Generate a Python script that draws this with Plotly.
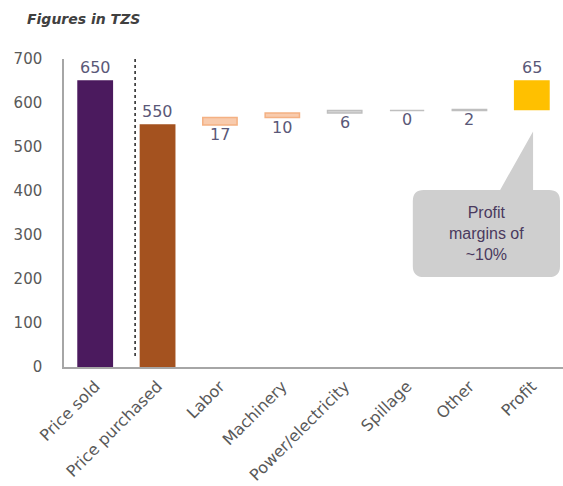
import plotly.graph_objects as go

categories = ["Price sold", "Price purchased", "Labor", "Machinery",
              "Power/electricity", "Spillage", "Other", "Profit"]
values = [650, 550, 17, 10, 6, 0, 2, 65]
kinds = ["total", "total", "cost", "cost", "cost", "cost", "cost", "profit"]
colors = ["#4B1A5E", "#A4521F", "#F8CBAD", "#F8CBAD", "#D9D9D9", "#D9D9D9", "#D9D9D9", "#FFC000"]
line_colors = ["#4B1A5E", "#A4521F", "#F4B183", "#F4B183", "#BFBFBF", "#BFBFBF", "#BFBFBF", "#FFC000"]
yticks = [0, 100, 200, 300, 400, 500, 600, 700]

# compute bases for the waterfall
bases = []
running = None
for v, k in zip(values, kinds):
    if k == "total":
        bases.append(0)
        running = v
    else:
        bases.append(running)
        running += v

label_color = "#5A5878"
font_fam = "DejaVu Sans"

fig = go.Figure()
fig.add_trace(go.Bar(
    x=list(range(len(categories))), y=values, base=bases,
    width=0.55,
    marker=dict(color=colors, line=dict(color=line_colors, width=1.5)),
    hoverinfo="skip",
))

annotations = []
for i, (v, b, k) in enumerate(zip(values, bases, kinds)):
    if k == "cost":
        annotations.append(dict(x=i, y=b, xref="x", yref="y", text=str(v),
                                showarrow=False, yanchor="top", yshift=2,
                                font=dict(size=16, color=label_color, family=font_fam)))
    else:
        annotations.append(dict(x=i, y=b + v, xref="x", yref="y", text=str(v),
                                showarrow=False, yanchor="bottom", yshift=2,
                                font=dict(size=16, color=label_color, family=font_fam)))

annotations.append(dict(x=-0.078, y=1.13, xref="paper", yref="paper",
                        text="<b><i>Figures in TZS</i></b>", showarrow=False,
                        xanchor="left", yanchor="middle",
                        font=dict(size=14, color="#404040", family=font_fam)))
annotations.append(dict(x=0.846, y=0.435, xref="paper", yref="paper",
                        text="Profit<br>margins of<br>~10%", showarrow=False,
                        xanchor="center", yanchor="middle",
                        font=dict(size=16, color="#4A3A5E", family="Liberation Sans")))

# callout path in paper coords
x0, x1 = 0.699, 0.994
yt, yb = 0.575, 0.292
rx, ry = 0.022, 0.036
px1, tipx, tipy, px2 = 0.874, 0.940, 0.765, 0.940
path = (f"M {x0+rx},{yt} L {px1},{yt} L {tipx},{tipy} L {px2},{yt} L {x1-rx},{yt} "
        f"Q {x1},{yt} {x1},{yt-ry} L {x1},{yb+ry} Q {x1},{yb} {x1-rx},{yb} "
        f"L {x0+rx},{yb} Q {x0},{yb} {x0},{yb+ry} L {x0},{yt-ry} Q {x0},{yt} {x0+rx},{yt} Z")

shapes = [
    dict(type="path", path=path, xref="paper", yref="paper",
         fillcolor="#CFCFCF", line=dict(width=0), layer="above"),
    dict(type="line", x0=0.64, x1=0.64, y0=25, y1=700, xref="x", yref="y",
         line=dict(color="#222222", width=1.5, dash="dot")),
]

fig.update_layout(
    width=563, height=486,
    margin=dict(l=64, r=0, t=59, b=119),
    paper_bgcolor="white", plot_bgcolor="white",
    showlegend=False,
    annotations=annotations,
    shapes=shapes,
    font=dict(family=font_fam, color="#595959"),
)
fig.update_xaxes(
    range=[-0.5, 7.5], tickmode="array", tickvals=list(range(len(categories))),
    ticktext=categories, tickangle=-45, tickfont=dict(size=16, color="#595959"),
    showline=True, linecolor="#A6A6A6", linewidth=1.5, showgrid=False,
    ticks="outside", ticklen=2, tickcolor="rgba(0,0,0,0)",
    zeroline=False,
)
fig.update_yaxes(
    range=[0, 700], tickvals=yticks, tickfont=dict(size=15, color="#595959"),
    showline=True, linecolor="#A6A6A6", linewidth=1.5, showgrid=False,
    ticks="outside", ticklen=17, tickcolor="rgba(0,0,0,0)",
    zeroline=False,
)

fig.write_html("out.html")
